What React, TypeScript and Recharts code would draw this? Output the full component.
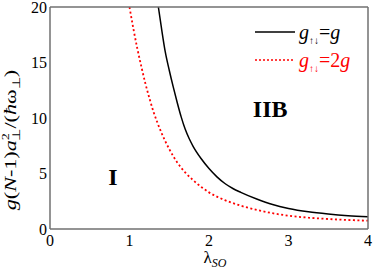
import { LineChart, Line, XAxis, YAxis, Legend, ReferenceDot } from "recharts";

// g_updown = g  (solid black)
const lambdaG = [1.363, 1.4, 1.45, 1.5, 1.55, 1.6, 1.65, 1.7, 1.75, 1.8, 1.9, 2.0, 2.1, 2.2, 2.3, 2.4, 2.6, 2.8, 3.0, 3.25, 3.5, 3.75, 4.0];
const valuesG = [20, 18.2, 15.95, 14.3, 12.8, 11.4, 10.1, 9.0, 8.15, 7.45, 6.35, 5.45, 4.7, 4.1, 3.65, 3.3, 2.7, 2.2, 1.85, 1.55, 1.35, 1.2, 1.1];

// g_updown = 2g  (dotted red)
const lambda2G = [1.0, 1.05, 1.1, 1.15, 1.2, 1.25, 1.3, 1.35, 1.4, 1.5, 1.6, 1.7, 1.8, 1.9, 2.0, 2.2, 2.4, 2.6, 2.8, 3.0, 3.25, 3.5, 3.75, 4.0];
const values2G = [20, 18.0, 16.2, 14.6, 13.1, 11.8, 10.6, 9.6, 8.7, 7.2, 6.0, 5.1, 4.4, 3.8, 3.3, 2.6, 2.1, 1.72, 1.42, 1.2, 1.02, 0.9, 0.81, 0.75];

const xMajor = [0, 1, 2, 3, 4];
const xMinor = [0.5, 1.5, 2.5, 3.5];
const yMajor = [0, 5, 10, 15, 20];
const yMinor = [1, 2, 3, 4, 6, 7, 8, 9, 11, 12, 13, 14, 16, 17, 18, 19];

const seriesNames = ["g↑↓=g", "g↑↓=2g"];
const legendTail = ["=", "=2"];
const seriesColors = ["#000000", "#ff0000"];

const regions = [
  { name: "I", x: 0.79, y: 4.75 },
  { name: "IIB", x: 2.77, y: 10.9 },
];

const blackData = lambdaG.map((x, i) => ({ x, y: valuesG[i] }));
const redData = lambda2G.map((x, i) => ({ x, y: values2G[i] }));

const FONT = "Liberation Serif";
const frame = { stroke: "#707070", strokeWidth: 1.5 };
const tickMark = { stroke: "#505050", strokeWidth: 1 };
const tickText = { fontSize: 16, fill: "#000", fontFamily: FONT };

function renderYLabel(props: any) {
  const vb = props.viewBox;
  const cx = vb.x + 16;
  const cy = vb.y + vb.height / 2 + 22;
  return (
    <text
      transform={`translate(${cx},${cy}) rotate(-90) scale(1.3,1)`}
      textAnchor="middle"
      fontSize={17}
      fontFamily={FONT}
      fill="#000"
    >
      <tspan fontStyle="italic">g</tspan>
      <tspan>(</tspan>
      <tspan fontStyle="italic">N</tspan>
      <tspan>-1)</tspan>
      <tspan fontStyle="italic">a</tspan>
      <tspan fontSize={11} dy={-7}>2</tspan>
      <tspan fontSize={11} dx={-6} dy={11}>⊥</tspan>
      <tspan dy={-4}>/(</tspan>
      <tspan fontStyle="italic">ħ</tspan>
      <tspan>ω</tspan>
      <tspan fontSize={11} dy={4}>⊥</tspan>
      <tspan dy={-4}>)</tspan>
    </text>
  );
}

function renderXLabel(props: any) {
  const vb = props.viewBox;
  return (
    <text x={vb.x + vb.width / 2 + 6} y={vb.y + 34} textAnchor="middle" fontSize={17} fontFamily={FONT} fill="#000">
      <tspan>λ</tspan>
      <tspan fontSize={12} fontStyle="italic" dy={4}>SO</tspan>
    </text>
  );
}

function LegendBox(props: any) {
  const payload = props.payload || [];
  return (
    <svg width={120} height={60} style={{ display: "block", overflow: "visible" }}>
      {payload.map((e: any, i: number) => {
        const cy = 14 + i * 28;
        const color = seriesColors[i] || e.color;
        return (
          <g key={i}>
            <line x1={3} x2={43} y1={cy} y2={cy} stroke={color} strokeWidth={1.5} strokeDasharray={i === 1 ? "2 2" : undefined} />
            <text x={47} y={cy + 7} fill={color} fontSize={20} fontFamily={FONT}>
              <tspan fontStyle="italic">g</tspan>
              <tspan fontSize={10} dy={5}>↑↓</tspan>
              <tspan dy={-5}>{legendTail[i]}</tspan>
              <tspan fontStyle="italic">g</tspan>
            </text>
          </g>
        );
      })}
    </svg>
  );
}

export default function App() {
  return (
    <div style={{ position: "absolute", left: 0, top: 0, width: 374, height: 271, background: "#fff", fontFamily: FONT }}>
      <LineChart width={374} height={271} margin={{ top: 7, right: 6, bottom: 0, left: 0 }}>
        {/* labelled axes */}
        <XAxis
          xAxisId="b"
          dataKey="x"
          type="number"
          domain={[0, 4]}
          ticks={xMajor}
          interval={0}
          height={42}
          tickLine={false}
          tickSize={0}
          tickMargin={6}
          axisLine={frame}
          tick={tickText}
          allowDataOverflow
          label={renderXLabel}
        />
        <YAxis
          yAxisId="l"
          type="number"
          domain={[0, 20]}
          ticks={yMajor}
          interval={0}
          width={50}
          tickLine={false}
          tickSize={0}
          tickMargin={3}
          axisLine={frame}
          tick={tickText}
          allowDataOverflow
          label={renderYLabel}
        />
        {/* inward tick marks, all four sides */}
        <XAxis xAxisId="bM" type="number" domain={[0, 4]} ticks={xMajor} interval={0} mirror tick={false} tickSize={5} tickLine={tickMark} axisLine={false} />
        <XAxis xAxisId="bm" type="number" domain={[0, 4]} ticks={xMinor} interval={0} mirror tick={false} tickSize={3} tickLine={tickMark} axisLine={false} />
        <XAxis xAxisId="tM" orientation="top" type="number" domain={[0, 4]} ticks={xMajor} interval={0} mirror tick={false} tickSize={5} tickLine={tickMark} axisLine={frame} />
        <XAxis xAxisId="tm" orientation="top" type="number" domain={[0, 4]} ticks={xMinor} interval={0} mirror tick={false} tickSize={3} tickLine={tickMark} axisLine={false} />
        <YAxis yAxisId="lM" type="number" domain={[0, 20]} ticks={yMajor} interval={0} mirror tick={false} tickSize={5} tickLine={tickMark} axisLine={false} />
        <YAxis yAxisId="lm" type="number" domain={[0, 20]} ticks={yMinor} interval={0} mirror tick={false} tickSize={3} tickLine={tickMark} axisLine={false} />
        <YAxis yAxisId="rM" orientation="right" type="number" domain={[0, 20]} ticks={yMajor} interval={0} mirror tick={false} tickSize={5} tickLine={tickMark} axisLine={frame} />
        <YAxis yAxisId="rm" orientation="right" type="number" domain={[0, 20]} ticks={yMinor} interval={0} mirror tick={false} tickSize={3} tickLine={tickMark} axisLine={false} />

        <Line
          xAxisId="b"
          yAxisId="l"
          data={blackData}
          dataKey="y"
          name={seriesNames[0]}
          type="monotone"
          stroke={seriesColors[0]}
          strokeWidth={1.5}
          dot={false}
          isAnimationActive={false}
        />
        <Line
          xAxisId="b"
          yAxisId="l"
          data={redData}
          dataKey="y"
          name={seriesNames[1]}
          type="monotone"
          stroke={seriesColors[1]}
          strokeWidth={1.8}
          strokeDasharray="2 2.5"
          dot={false}
          isAnimationActive={false}
        />

        {regions.map((r) => (
          <ReferenceDot
            key={r.name}
            xAxisId="b"
            yAxisId="l"
            x={r.x}
            y={r.y}
            r={0}
            fill="none"
            stroke="none"
            label={{ value: r.name, position: "center", fontSize: 24, fontWeight: 700, fill: "#000", fontFamily: FONT }}
          />
        ))}

        <Legend
          layout="horizontal"
          verticalAlign="middle"
          align="center"
          content={LegendBox}
          wrapperStyle={{ left: 252, top: 18, width: 120, height: 60 }}
        />
      </LineChart>
    </div>
  );
}
